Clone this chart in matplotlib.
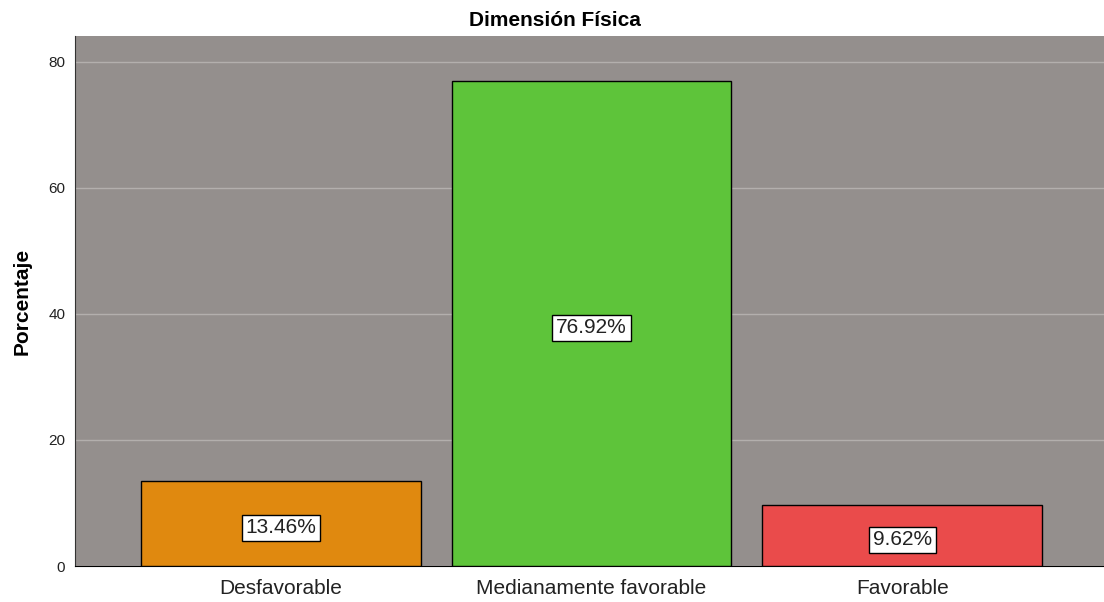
import matplotlib
matplotlib.use("Agg")
import matplotlib.pyplot as plt

plt.rcParams['font.family'] = ['Liberation Sans', 'DejaVu Sans']

categories = ["Desfavorable", "Medianamente favorable", "Favorable"]
values = [13.46, 76.92, 9.62]
labels = ["13.46%", "76.92%", "9.62%"]
colors = ["#e0890f", "#5ec43a", "#ea4b4b"]

fig = plt.figure(figsize=(11.04, 6.02), dpi=100)
ax = fig.add_axes([75/1104, 36/602, 1 - 75/1104, 1 - 72/602])
ax.set_facecolor("#948f8d")
x = list(range(len(categories)))
ax.bar(x, values, width=0.9, color=colors, edgecolor="black", linewidth=1, zorder=3)
for xi, v, lab in zip(x, values, labels):
    ax.annotate(lab, (xi, v / 2), xytext=(0, -3), textcoords="offset points",
                ha="center", va="center", fontsize=15, color="#222222",
                bbox=dict(boxstyle="square,pad=0.18", fc="white", ec="black", lw=1), zorder=4)
ax.set_xlim(-0.662, 2.649)
ax.set_ylim(0, 84.1)
ax.set_yticks([0, 20, 40, 60, 80])
ax.grid(axis="y", color="#b3afad", linewidth=1, zorder=1)
ax.set_xticks(x)
ax.set_xticklabels(categories, fontsize=15, color="#222222")
ax.tick_params(axis="x", length=0, pad=9)
ax.tick_params(axis="y", length=0, labelsize=11, pad=7, labelcolor="#222222")
for s in ["top", "right"]:
    ax.spines[s].set_visible(False)
ax.spines["left"].set_color("#333333")
ax.spines["bottom"].set_color("black")
ax.set_ylabel("Porcentaje", fontsize=15, fontweight="bold", labelpad=12)
fig.text(0.5025, 1 - 21/602, "Dimensión Física", fontsize=15, fontweight="bold",
         ha="center", va="center")
fig.savefig("out.png", dpi=100)
